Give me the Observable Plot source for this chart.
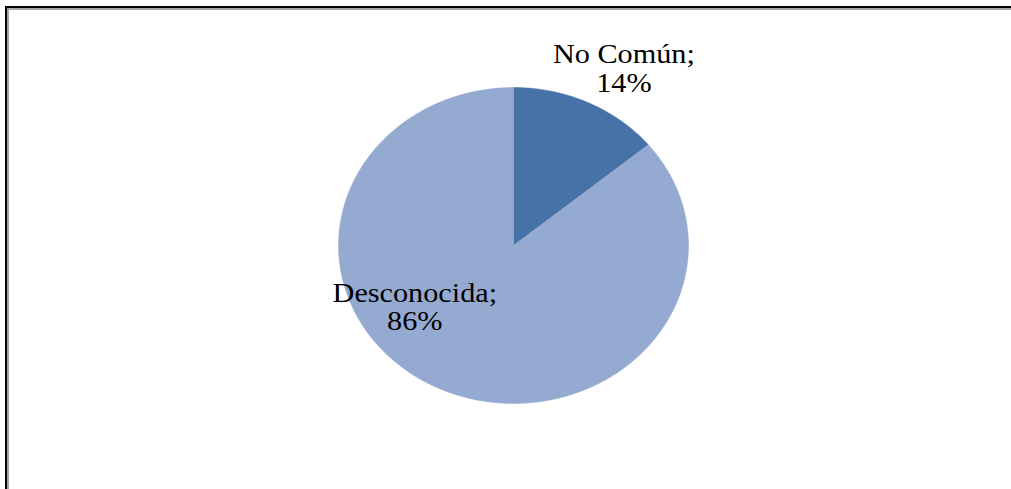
<!DOCTYPE html>
<html>
<head>
<meta charset="utf-8">
<script src="https://cdn.jsdelivr.net/npm/d3@7"></script>
<script src="https://cdn.jsdelivr.net/npm/@observablehq/plot@0.6"></script>
<style>
  html, body { margin: 0; padding: 0; background: #fff; }
  #wrap { position: relative; width: 1011px; height: 489px; overflow: hidden; }
  #frameOuter { position: absolute; left: 5px; top: 6px; width: 1200px; height: 700px;
    border-left: 2px solid #000; border-top: 2px solid #000; }
  #frameInner { position: absolute; left: 7px; top: 8px; width: 1200px; height: 700px;
    border-left: 2px solid #a6a6a6; border-top: 2px solid #a6a6a6; }
  #chart { position: absolute; left: 0; top: 0; }
  #chart svg text { font-family: "Liberation Serif", "Times New Roman", Times, serif !important; }
</style>
</head>
<body>
<div id="wrap">
  <div id="frameOuter"></div>
  <div id="frameInner"></div>
  <div id="chart"></div>
</div>
<script>
// Data
const categories = ["No Común", "Desconocida"];
const values = [14, 86];
const labels = ["No Común;\n14%", "Desconocida;\n86%"];
const colors = ["#4672A8", "#95AAD1"];

// Build slice polygons from the values (clockwise from 12 o'clock)
const total = d3.sum(values);
let acc = 0;
const points = [];
const slices = categories.map((c, i) => {
  const a0 = acc / total * 2 * Math.PI;
  acc += values[i];
  const a1 = acc / total * 2 * Math.PI;
  return {name: c, a0, a1, i};
});
slices.forEach(s => {
  points.push({name: s.name, x: 0, y: 0});
  const n = Math.max(2, Math.ceil((s.a1 - s.a0) / (Math.PI / 360)));
  for (let k = 0; k <= n; k++) {
    const a = s.a0 + (s.a1 - s.a0) * k / n;
    points.push({name: s.name, x: Math.sin(a), y: Math.cos(a)});
  }
  points.push({name: s.name, x: 0, y: 0});
});

// Label placement (Excel "best fit" positions), relative to the slice mid-angle
const labelPlacement = [
  {r: 1.27, dx: 0.09, dy: -0.027},
  {r: 0.62, dx: -0.30, dy: 0.172}
];
const labelData = slices.map((s, i) => {
  const m = (s.a0 + s.a1) / 2;
  const p = labelPlacement[i];
  return {text: labels[i], x: Math.sin(m) * p.r + p.dx, y: Math.cos(m) * p.r + p.dy};
});

const W = 1011, H = 489;
const plot = Plot.plot({
  width: W,
  height: H,
  marginLeft: 338,
  marginRight: W - 688,
  marginTop: 87,
  marginBottom: H - 403,
  x: {domain: [-1, 1], axis: null},
  y: {domain: [-1, 1], axis: null},
  style: {background: "transparent", overflow: "visible", fontFamily: "Liberation Serif"},
  marks: [
    ...slices.map((s, i) => Plot.line(points.filter(p => p.name === s.name), {
      x: "x", y: "y", fill: colors[i], stroke: colors[i], strokeWidth: 0.5, curve: "linear"
    })),
    Plot.text(labelData, {
      x: "x", y: "y", text: "text",
      fontSize: 28, fontFamily: "Liberation Serif", fill: "#000",
      textAnchor: "middle", lineAnchor: "middle", lineHeight: 1.02
    })
  ]
});
document.getElementById("chart").appendChild(plot);

// slight horizontal stretch of the text, as in the original
plot.querySelectorAll("text").forEach(t => {
  t.style.fontFamily = "'Liberation Serif', 'Times New Roman', serif";
  const tr = t.getAttribute("transform");
  if (tr) t.setAttribute("transform", tr + " scale(1.08,1)");
});
</script>
</body>
</html>
